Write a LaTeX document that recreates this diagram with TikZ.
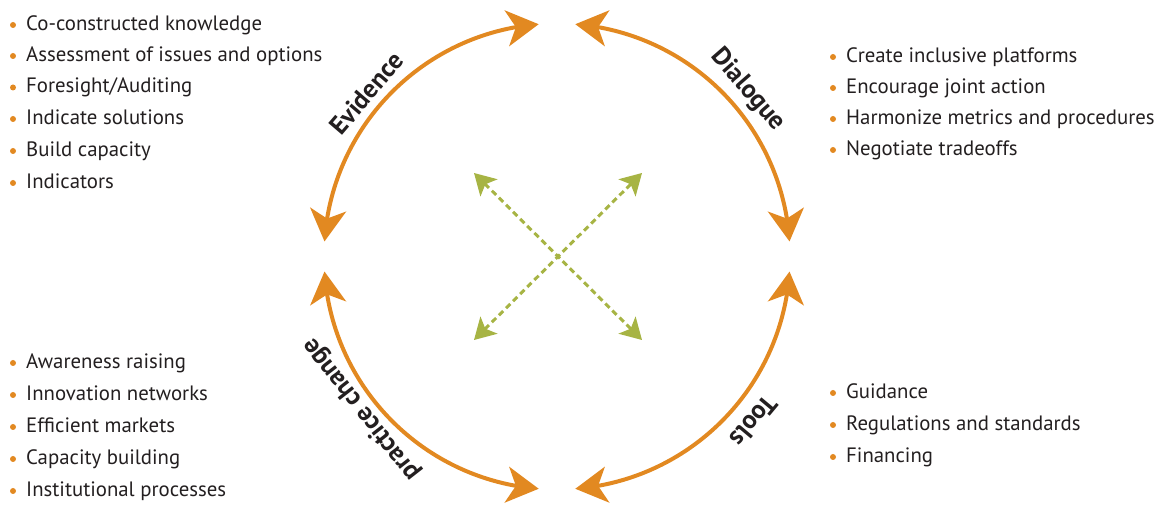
\documentclass[tikz,border=0pt]{standalone}
\usepackage{fontspec}
\setmainfont{PT Sans}
\usetikzlibrary{arrows.meta,bending,calc}

\definecolor{cycleorange}{RGB}{226,137,33}
\definecolor{crossgreen}{RGB}{167,180,68}
\definecolor{inkgray}{RGB}{35,31,32}

\tikzset{
    bigtip/.tip={Stealth[length=32pt,width=36pt,inset=9pt]},
    smalltip/.tip={Stealth[length=21pt,width=24pt,inset=5pt]},
    cyclearc/.style={cycleorange, line width=4pt, bigtip-bigtip},
    crossarrow/.style={crossgreen, line width=3pt, dash pattern=on 6pt off 4pt, smalltip-smalltip},
    phase/.style={font=\bfseries\fontsize{26}{26}\selectfont, text=inkgray},
    point/.style={anchor=west, inner sep=0pt, text height=10.4pt, text depth=0pt,
        font=\fontsize{20.8}{20.8}\selectfont, text=inkgray}
}

\begin{document}
\begin{tikzpicture}[x=1pt,y=1pt]
        \useasboundingbox (0,0) rectangle (1165,505);

        \coordinate (ctr) at (557,248.5);

        % the four arcs of the cycle
        \coordinate (evStart) at ($(ctr)+(176.3:233)$);
        \coordinate (diStart) at ($(ctr)+(85.5:233)$);
        \coordinate (toStart) at ($(ctr)+(356.3:233)$);
        \coordinate (pcStart) at ($(ctr)+(265.5:233)$);
        \draw[cyclearc] (evStart) arc[start angle=176.3, end angle=94.5, radius=233];
        \draw[cyclearc] (diStart) arc[start angle=85.5, end angle=3.7, radius=233];
        \draw[cyclearc] (toStart) arc[start angle=356.3, end angle=274.5, radius=233];
        \draw[cyclearc] (pcStart) arc[start angle=265.5, end angle=183.7, radius=233];

        \node[phase, rotate=49.4] (evidence) at ($(ctr)+(139.4:251)$) {Evidence};
        \node[phase, rotate=-48.9] (dialogue) at ($(ctr)+(41.1:253)$) {Dialogue};
        \node[phase, rotate=230.1] (tools) at ($(ctr)+(-39.9:257)$) {Tools};
        \node[phase, rotate=128] (practice) at ($(ctr)+(218:248)$) {practice change};

        % the cross in the middle
        \coordinate (tl) at (474,332);
        \coordinate (tr) at (642,332);
        \coordinate (bl) at (474,165);
        \coordinate (br) at (642,165);
        \draw[crossarrow] (tl) -- (br);
        \draw[crossarrow] (bl) -- (tr);

        % evidence list
        \node[point] (ev1) at (26,480) {Co-constructed knowledge};
        \node[point] (ev2) at (26,449) {Assessment of issues and options};
        \node[point] (ev3) at (26,417.5) {Foresight/Auditing};
        \node[point] (ev4) at (26,386) {Indicate solutions};
        \node[point] (ev5) at (26,354) {Build capacity};
        \node[point] (ev6) at (26,322) {Indicators};

        % dialogue list
        \node[point] (di1) at (846,448) {Create inclusive platforms};
        \node[point] (di2) at (846,417) {Encourage joint action};
        \node[point] (di3) at (846,386) {Harmonize metrics and procedures};
        \node[point] (di4) at (846,355) {Negotiate tradeoffs};

        % practice change list
        \node[point] (pc1) at (26,142) {Awareness raising};
        \node[point] (pc2) at (26,110) {Innovation networks};
        \node[point] (pc3) at (26,78) {Efficient markets};
        \node[point] (pc4) at (26,46) {Capacity building};
        \node[point] (pc5) at (26,14) {Institutional processes};

        % tools list
        \node[point] (to1) at (846,112) {Guidance};
        \node[point] (to2) at (846,80) {Regulations and standards};
        \node[point] (to3) at (846,48) {Financing};

        % bullets
        \foreach \item in {ev1,ev2,ev3,ev4,ev5,ev6,di1,di2,di3,di4,pc1,pc2,pc3,pc4,pc5,to1,to2,to3}
            \fill[cycleorange] ($(\item.west)+(-13,0)$) circle (3);

    \end{tikzpicture}
\end{document}
